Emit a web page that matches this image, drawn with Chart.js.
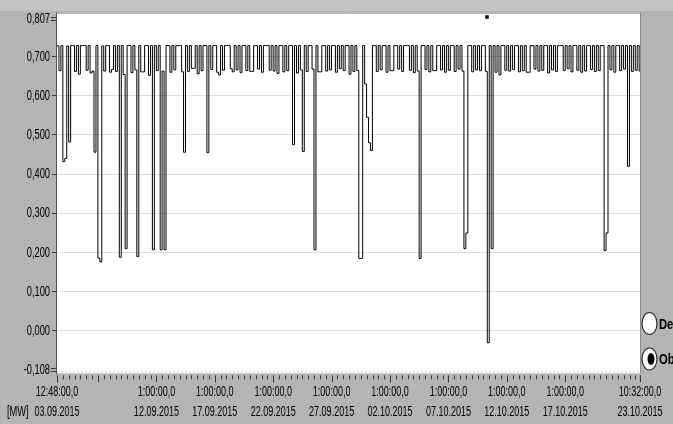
<!DOCTYPE html>
<html>
<head>
<meta charset="utf-8">
<script src="https://cdn.jsdelivr.net/npm/chart.js@4/dist/chart.umd.min.js"></script>
<style>
  html, body { margin: 0; padding: 0; background: #b4b4b4; }
  #wrap { width: 673px; height: 424px; position: relative; }
</style>
</head>
<body>
<div id="wrap"><canvas id="c" width="673" height="424"></canvas></div>
<script>
// Time axis: hours since 03.09.2015 12:48:00 until 23.10.2015 10:32:00
const RANGE_HOURS = 1197.73;
const SAMPLE_HOURS = 4;           // one logged value every 4 hours
const HALF_DAY_TICK_OFFSET = 0.2; // 03.09.2015 13:00 relative to the start

// Major ticks (01:00 every fifth day) and their labels
const majorTickHours = [84.2, 204.2, 324.2, 444.2, 564.2, 684.2, 804.2, 924.2, 1044.2];
const majorTickLabels = [
  null,
  ['1:00:00,0', '12.09.2015'],
  ['1:00:00,0', '17.09.2015'],
  ['1:00:00,0', '22.09.2015'],
  ['1:00:00,0', '27.09.2015'],
  ['1:00:00,0', '02.10.2015'],
  ['1:00:00,0', '07.10.2015'],
  ['1:00:00,0', '12.10.2015'],
  ['1:00:00,0', '17.10.2015']
];
const startLabel = ['12:48:00,0', '03.09.2015'];
const endLabel = ['10:32:00,0', '23.10.2015'];

// Value axis ticks [MW]
const yTicks = [0.807, 0.7, 0.6, 0.5, 0.4, 0.3, 0.2, 0.1, 0, -0.108];

// Logged power [MW], one value per 4-hour sample
const mwSamples = [
  0.727, 0.664, 0.728, 0.432, 0.440, 0.727,
  0.482, 0.728, 0.728, 0.662, 0.728, 0.655,
  0.728, 0.728, 0.728, 0.665, 0.728, 0.658,
  0.663, 0.456, 0.728, 0.186, 0.176, 0.727,
  0.663, 0.728, 0.728, 0.660, 0.667, 0.728,
  0.662, 0.728, 0.188, 0.728, 0.654, 0.210,
  0.728, 0.728, 0.659, 0.728, 0.666, 0.190,
  0.728, 0.661, 0.661, 0.728, 0.728, 0.652,
  0.728, 0.207, 0.728, 0.664, 0.728, 0.207,
  0.663, 0.207, 0.728, 0.728, 0.660, 0.728,
  0.666, 0.728, 0.728, 0.728, 0.661, 0.456,
  0.728, 0.662, 0.728, 0.670, 0.670, 0.728,
  0.656, 0.728, 0.664, 0.728, 0.728, 0.455,
  0.728, 0.667, 0.728, 0.728, 0.660, 0.653,
  0.728, 0.665, 0.728, 0.728, 0.728, 0.669,
  0.661, 0.728, 0.666, 0.728, 0.659, 0.728,
  0.728, 0.664, 0.728, 0.662, 0.662, 0.728,
  0.728, 0.668, 0.728, 0.660, 0.728, 0.728,
  0.728, 0.665, 0.728, 0.663, 0.728, 0.657,
  0.728, 0.728, 0.661, 0.728, 0.664, 0.728,
  0.728, 0.475, 0.728, 0.658, 0.728, 0.666,
  0.458, 0.728, 0.662, 0.728, 0.728, 0.668,
  0.207, 0.728, 0.661, 0.661, 0.728, 0.728,
  0.663, 0.728, 0.666, 0.728, 0.728, 0.660,
  0.728, 0.669, 0.728, 0.664, 0.728, 0.728,
  0.655, 0.728, 0.662, 0.728, 0.664, 0.185,
  0.185, 0.728, 0.630, 0.545, 0.480, 0.460,
  0.728, 0.728, 0.662, 0.728, 0.666, 0.728,
  0.728, 0.660, 0.728, 0.664, 0.664, 0.728,
  0.728, 0.668, 0.728, 0.662, 0.728, 0.728,
  0.728, 0.665, 0.728, 0.659, 0.728, 0.663,
  0.185, 0.728, 0.728, 0.667, 0.728, 0.661,
  0.728, 0.664, 0.664, 0.728, 0.728, 0.666,
  0.728, 0.660, 0.728, 0.665, 0.728, 0.728,
  0.662, 0.728, 0.668, 0.728, 0.663, 0.210,
  0.250, 0.728, 0.728, 0.661, 0.728, 0.666,
  0.728, 0.664, 0.728, 0.728, 0.662, -0.030,
  0.728, 0.210, 0.728, 0.660, 0.728, 0.653,
  0.728, 0.728, 0.665, 0.728, 0.663, 0.728,
  0.667, 0.728, 0.728, 0.661, 0.728, 0.664,
  0.728, 0.660, 0.660, 0.728, 0.728, 0.668,
  0.728, 0.663, 0.728, 0.665, 0.728, 0.728,
  0.658, 0.728, 0.666, 0.728, 0.662, 0.728,
  0.728, 0.728, 0.664, 0.728, 0.669, 0.728,
  0.661, 0.728, 0.728, 0.665, 0.728, 0.660,
  0.728, 0.663, 0.728, 0.728, 0.667, 0.728,
  0.662, 0.728, 0.664, 0.728, 0.728, 0.205,
  0.250, 0.728, 0.666, 0.728, 0.660, 0.728,
  0.728, 0.664, 0.728, 0.668, 0.728, 0.420,
  0.728, 0.662, 0.728, 0.665, 0.728, 0.663
];

// Cursor marker near the top of the graph
const cursorHour = 883.4;
const cursorMW = 0.801;

const LABEL_FONT = "'Liberation Sans', Arial, sans-serif";
const LABEL_SQUEEZE = { x: 0.6, y: 0.62 }; // condensed instrument-panel lettering

const points = mwSamples.map((v, i) => ({ x: i * SAMPLE_HOURS, y: v }));
points.push({ x: RANGE_HOURS, y: mwSamples[mwSamples.length - 1] });

function fmtMW(v) {
  return v.toFixed(3).replace('.', ',');
}

function isMajor(h) {
  return majorTickHours.some(m => Math.abs(m - h) < 0.01);
}

// Tick labels drawn horizontally condensed; the end labels of the value axis stay inside the frame
Chart.LinearScale.prototype.drawLabels = function (chartArea) {
  if (!this.options.ticks.display) return;
  const ctx = this.ctx;
  const sx = LABEL_SQUEEZE[this.axis] || 1;
  const items = this.getLabelItems(chartArea);
  for (const item of items) {
    const o = item.options;
    let tx = o.translation[0];
    let ty = o.translation[1];
    if (this.axis === 'y') ty = Math.min(Math.max(ty, 19), 370);
    ctx.save();
    ctx.translate(tx, ty);
    ctx.scale(sx, 1);
    ctx.font = item.font.string;
    ctx.fillStyle = o.color;
    ctx.textAlign = o.textAlign;
    ctx.textBaseline = o.textBaseline;
    const lines = Array.isArray(item.label) ? item.label : [item.label];
    let y = item.textOffset;
    for (const line of lines) {
      ctx.fillText(line, 0, y);
      y += item.font.lineHeight;
    }
    ctx.restore();
  }
};

// Frame, tick marks, unit and channel selector around the graph
const framePlugin = {
  id: 'frame',
  beforeDraw(chart) {
    const { ctx, chartArea: a } = chart;
    ctx.save();
    ctx.fillStyle = '#b4b4b4';
    ctx.fillRect(0, 0, chart.width, chart.height);
    ctx.fillStyle = '#c3c3c3';
    ctx.fillRect(0, 0, chart.width, 11);
    ctx.fillStyle = '#ffffff';
    ctx.fillRect(a.left, a.top - 2, a.right - a.left, a.bottom - a.top + 2);
    ctx.restore();
  },
  afterDraw(chart) {
    const { ctx, chartArea: a } = chart;
    const xs = chart.scales.x;
    ctx.save();
    // plot border
    ctx.strokeStyle = '#8a8a8a';
    ctx.lineWidth = 1;
    ctx.beginPath();
    ctx.moveTo(a.left, a.top - 1.5);
    ctx.lineTo(a.right + 0.5, a.top - 1.5);
    ctx.lineTo(a.right + 0.5, a.bottom);
    ctx.stroke();
    ctx.strokeStyle = '#505050';
    ctx.beginPath();
    ctx.moveTo(a.left - 0.5, a.top - 2);
    ctx.lineTo(a.left - 0.5, a.bottom + 1);
    ctx.stroke();
    // bottom edge, dotted
    ctx.strokeStyle = '#d0d0d0';
    ctx.setLineDash([2, 2]);
    ctx.beginPath();
    ctx.moveTo(a.left, a.bottom - 1.5);
    ctx.lineTo(a.right, a.bottom - 1.5);
    ctx.stroke();
    ctx.setLineDash([]);
    // x tick marks
    ctx.strokeStyle = '#3a3a3a';
    xs.ticks.forEach(t => {
      const px = Math.round(xs.getPixelForValue(t.value)) + 0.5;
      const len = (isMajor(t.value) || t.value === 0 || t.value === RANGE_HOURS) ? 7 : 4;
      ctx.beginPath();
      ctx.moveTo(px, a.bottom + 2);
      ctx.lineTo(px, a.bottom + 2 + len);
      ctx.stroke();
    });
    // "=" end marks of the value axis
    [19, 370].forEach(ly => {
      [ly - 1.5, ly + 1.5].forEach(yy => {
        ctx.beginPath();
        ctx.moveTo(a.left - 6, yy);
        ctx.lineTo(a.left - 1, yy);
        ctx.stroke();
      });
    });
    // unit
    ctx.fillStyle = '#000';
    ctx.textBaseline = 'middle';
    ctx.textAlign = 'left';
    ctx.save();
    ctx.translate(7, 412);
    ctx.scale(0.62, 1);
    ctx.font = "15px " + LABEL_FONT;
    ctx.fillText('[MW]', 0, 0);
    ctx.restore();
    // channel selector
    const items = [['De', 323.5, false], ['Ob', 359, true]];
    items.forEach(([txt, cy, on]) => {
      ctx.beginPath();
      ctx.ellipse(649.5, cy, 7.5, 11, 0, 0, Math.PI * 2);
      ctx.fillStyle = '#ffffff';
      ctx.fill();
      ctx.strokeStyle = '#2a2a2a';
      ctx.lineWidth = 1.2;
      ctx.stroke();
      if (on) {
        ctx.beginPath();
        ctx.ellipse(651, cy, 3.5, 6, 0, 0, Math.PI * 2);
        ctx.fillStyle = '#000';
        ctx.fill();
      }
      ctx.save();
      ctx.translate(659, cy + 1);
      ctx.scale(0.75, 1);
      ctx.fillStyle = '#000';
      ctx.font = "bold 15px " + LABEL_FONT;
      ctx.fillText(txt, 0, 0);
      ctx.restore();
    });
    ctx.restore();
  }
};

new Chart(document.getElementById('c'), {
  type: 'line',
  data: {
    datasets: [
      {
        data: points,
        borderColor: '#000000',
        borderWidth: 1,
        stepped: true,
        pointRadius: 0,
        fill: false
      },
      {
        data: [{ x: cursorHour, y: cursorMW }],
        showLine: false,
        pointStyle: 'rect',
        pointRadius: 2.5,
        backgroundColor: '#000',
        borderColor: '#000',
        borderWidth: 0
      }
    ]
  },
  options: {
    responsive: false,
    animation: false,
    events: [],
    layout: { padding: { left: 0, right: 33, top: 14.6, bottom: 0 } },
    plugins: { legend: { display: false }, tooltip: { enabled: false } },
    scales: {
      x: {
        type: 'linear',
        min: 0,
        max: RANGE_HOURS,
        afterFit(s) {
          s.height = 50.7;
          s.paddingLeft = 0;
          s.paddingRight = 0;
        },
        afterBuildTicks(s) {
          const t = [{ value: 0 }];
          for (let h = HALF_DAY_TICK_OFFSET + 12; h < RANGE_HOURS - 1; h += 12) {
            t.push({ value: Math.round(h * 10) / 10 });
          }
          t.push({ value: RANGE_HOURS });
          s.ticks = t;
        },
        grid: { display: true, drawOnChartArea: false, drawTicks: false },
        border: { display: false },
        ticks: {
          autoSkip: false,
          maxRotation: 0,
          padding: 8.5,
          color: '#000',
          font: { family: LABEL_FONT, size: 15, lineHeight: 1.333 },
          callback(v) {
            if (v === 0) return startLabel;
            if (v === RANGE_HOURS) return endLabel;
            const k = majorTickHours.findIndex(m => Math.abs(m - v) < 0.01);
            if (k >= 0 && majorTickLabels[k]) return majorTickLabels[k];
            return '';
          }
        }
      },
      y: {
        min: -0.108,
        max: 0.807,
        afterFit(s) {
          s.width = 57;
          s.paddingTop = 0;
          s.paddingBottom = 0;
        },
        afterBuildTicks(s) { s.ticks = yTicks.map(v => ({ value: v })); },
        grid: {
          color: ctx => (ctx.tick && (ctx.tick.value === 0.807 || ctx.tick.value === -0.108)) ? 'rgba(0,0,0,0)' : '#dcdcdc',
          tickColor: ctx => (ctx.tick && (ctx.tick.value === 0.807 || ctx.tick.value === -0.108)) ? 'rgba(0,0,0,0)' : '#3a3a3a',
          tickLength: 5,
          lineWidth: 1
        },
        border: { display: false },
        ticks: {
          padding: 2,
          color: '#000',
          font: { family: LABEL_FONT, size: 15 },
          callback: v => fmtMW(v)
        }
      }
    }
  },
  plugins: [framePlugin]
});
</script>
</body>
</html>
